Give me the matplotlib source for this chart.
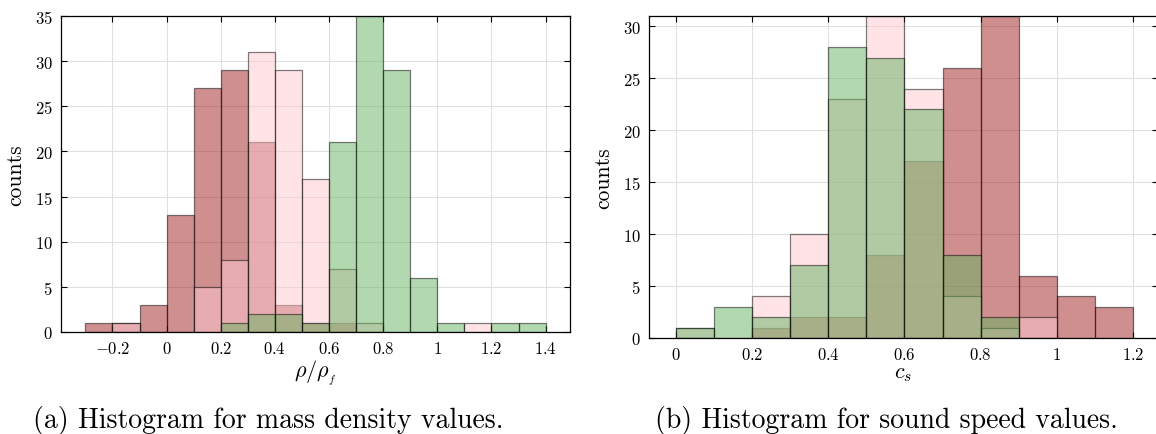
import numpy as np
import matplotlib
matplotlib.use("Agg")
import matplotlib.pyplot as plt
from matplotlib.ticker import FuncFormatter

plt.rcParams['font.family'] = 'serif'
plt.rcParams['font.serif'] = ['cmr10']
plt.rcParams['mathtext.fontset'] = 'cm'
plt.rcParams['axes.unicode_minus'] = False

# mass density histogram (bin left edges, width 0.1)
rho_edges = [-0.3, -0.2, -0.1, 0.0, 0.1, 0.2, 0.3, 0.4, 0.5, 0.6, 0.7, 0.8, 0.9, 1.0, 1.1, 1.2, 1.3]
rho_red = [1, 1, 3, 13, 27, 29, 21, 3, 1, 1, 0, 0, 0, 0, 0, 0, 0]
rho_pink = [0, 1, 0, 0, 5, 8, 31, 29, 17, 7, 1, 0, 0, 0, 1, 0, 0]
rho_green = [0, 0, 0, 0, 0, 1, 2, 2, 1, 21, 35, 29, 6, 1, 0, 1, 1]

# sound speed histogram
cs_edges = [0.0, 0.1, 0.2, 0.3, 0.4, 0.5, 0.6, 0.7, 0.8, 0.9, 1.0, 1.1]
cs_red = [0, 0, 1, 2, 2, 8, 17, 26, 31, 6, 4, 3]
cs_pink = [1, 0, 4, 10, 23, 31, 24, 4, 1, 2, 0, 0]
cs_green = [1, 3, 2, 7, 28, 27, 22, 8, 2, 0, 0, 0]

bin_w = 0.1
colors = {'red': (0.63, 0.13, 0.13, 0.5),
          'pink': (1.0, 0.79, 0.82, 0.5),
          'green': (0.40, 0.70, 0.38, 0.5)}
edge = (0, 0, 0, 0.5)


def draw_hist(ax, edges, series):
    edges = np.array(edges)
    for name, counts in series:
        counts = np.array(counts)
        m = counts > 0
        ax.bar(edges[m], counts[m], width=bin_w, align='edge',
               color=colors[name], edgecolor=edge, linewidth=0.9, zorder=2)


def style(ax):
    ax.grid(True, color='0.88', linewidth=0.8, zorder=0)
    ax.set_axisbelow(True)
    ax.tick_params(direction='in', length=4, width=0.8, top=True, right=True,
                   labelsize=12, pad=6)
    for s in ax.spines.values():
        s.set_linewidth(0.9)
    ax.xaxis.set_major_formatter(FuncFormatter(lambda v, p: f'${np.round(v, 2):g}$'))
    ax.yaxis.set_major_formatter(FuncFormatter(lambda v, p: f'${np.round(v, 2):g}$'))


fig = plt.figure(figsize=(11.56, 4.35), dpi=100)

ax1 = fig.add_axes([61 / 1156, 102 / 435, 509 / 1156, 316 / 435])
draw_hist(ax1, rho_edges, [('red', rho_red), ('pink', rho_pink), ('green', rho_green)])
ax1.set_xlim(-0.39, 1.49)
ax1.set_ylim(0, 35)
ax1.set_xticks(np.round(np.arange(-0.2, 1.41, 0.2), 2))
ax1.set_yticks(np.arange(0, 36, 5))
style(ax1)
ax1.set_xlabel(r'$\rho/\rho_{_f}$', fontsize=16, labelpad=1)
ax1.set_ylabel('counts', fontsize=15.5, labelpad=7)

ax2 = fig.add_axes([649 / 1156, 96 / 435, 509 / 1156, 322 / 435])
draw_hist(ax2, cs_edges, [('red', cs_red), ('pink', cs_pink), ('green', cs_green)])
ax2.set_xlim(-0.07, 1.265)
ax2.set_ylim(0, 31)
ax2.set_xticks(np.round(np.arange(0, 1.21, 0.2), 2))
ax2.set_yticks(np.arange(0, 31, 5))
style(ax2)
ax2.set_xlabel(r'$c_s$', fontsize=16, labelpad=1)
ax2.set_ylabel('counts', fontsize=15.5, labelpad=7)

fig.text(268 / 1156, 7 / 435, '(a) Histogram for mass density values.', ha='center', va='baseline', fontsize=20)
fig.text(886 / 1156, 7 / 435, '(b) Histogram for sound speed values.', ha='center', va='baseline', fontsize=20)

fig.savefig('out.png', dpi=100)
